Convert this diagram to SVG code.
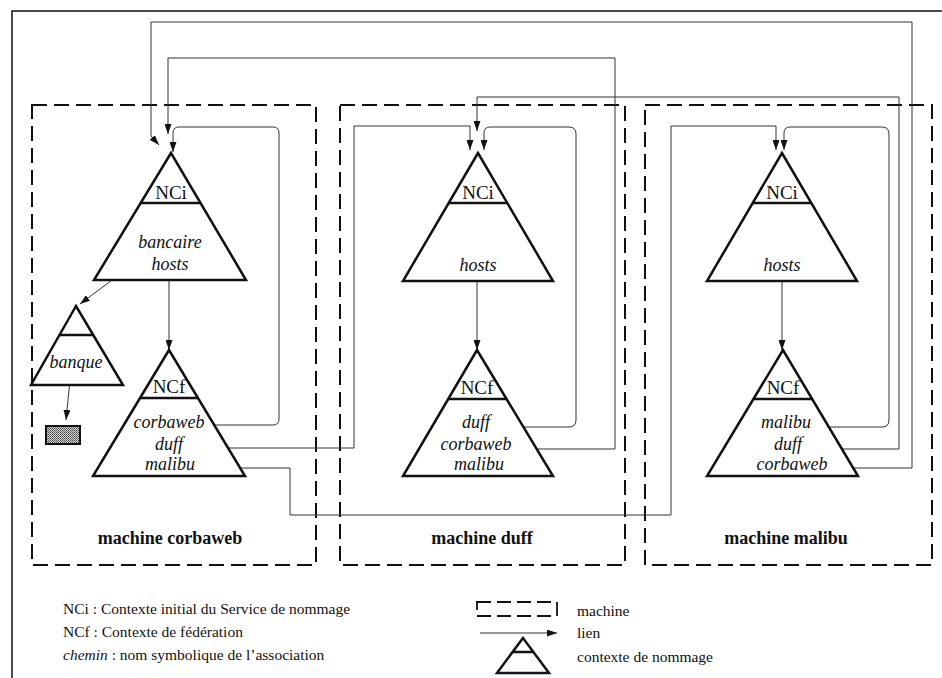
<svg xmlns="http://www.w3.org/2000/svg" width="942" height="678" viewBox="0 0 942 678">
  <style>
    .frame { fill: none; stroke: #111; stroke-width: 1.5; }
    .machine { fill: none; stroke: #111; stroke-width: 2; stroke-dasharray: 15 7; }
    .tri { fill: #fff; stroke: #111; stroke-width: 2.5; stroke-linejoin: miter; }
    .sep { stroke: #111; stroke-width: 2.5; }
    .link { fill: none; stroke: #333; stroke-width: 1; }
    text { font-family: "Liberation Serif", "Times New Roman", serif; fill: #111; }
    .t { text-anchor: middle; }
    .ctx { font-size: 19px; }
    .name { font-size: 18px; font-style: italic; }
    .mlabel { font-size: 18px; font-weight: bold; }
    .key { font-size: 15.5px; text-anchor: start; }
  </style>
  <defs>
    <marker id="arrow" markerUnits="userSpaceOnUse" markerWidth="10" markerHeight="7" refX="10" refY="3.5" orient="auto">
      <path d="M0,0 L10,3.5 L0,7 z" fill="#111"/>
    </marker>
    <pattern id="grain" width="2" height="2" patternUnits="userSpaceOnUse">
      <rect width="2" height="2" fill="#d8d8d8"/>
      <rect width="1" height="1" fill="#444"/>
      <rect x="1" y="1" width="1" height="1" fill="#666"/>
    </pattern>
  </defs>

  <rect width="942" height="678" fill="#fff"/>

  <!-- page frame -->
  <path class="frame" d="M12,678 V11 H942"/>

  <!-- machine boundaries -->
  <g id="machine-corbaweb">
    <rect class="machine" x="32" y="105" width="284" height="460"/>
    <text class="t mlabel" x="170" y="544">machine corbaweb</text>
  </g>
  <g id="machine-duff">
    <rect class="machine" x="340" y="105" width="285" height="460"/>
    <text class="t mlabel" x="482" y="544">machine duff</text>
  </g>
  <g id="machine-malibu">
    <rect class="machine" x="645" y="105" width="287" height="460"/>
    <text class="t mlabel" x="786" y="544">machine malibu</text>
  </g>

  <!-- links -->
  <g id="connectors">
    <!-- corbaweb machine -->
    <path class="link" d="M147,254 L80,304" marker-end="url(#arrow)"/>
    <path class="link" d="M70,380 L66,420" marker-end="url(#arrow)"/>
    <path class="link" d="M169,277 V350" marker-end="url(#arrow)"/>
    <path class="link" d="M210,425 H273 Q279,425 279,419 V133 Q279,127 273,127 H179 Q173,127 173,133 V152" marker-end="url(#arrow)"/>
    <path class="link" d="M190,448 H354 V126 H470 V150" marker-end="url(#arrow)"/>
    <path class="link" d="M197,468 H290 V515 H671 V126 H776 V150" marker-end="url(#arrow)"/>
    <!-- duff machine -->
    <path class="link" d="M477,277 V350" marker-end="url(#arrow)"/>
    <path class="link" d="M503,427 H569 Q576,427 576,420 V134 Q576,127 569,127 H490 Q484,127 484,133 V150" marker-end="url(#arrow)"/>
    <path class="link" d="M517,449 H615 V58 H168 V134" marker-end="url(#arrow)"/>
    <!-- malibu machine -->
    <path class="link" d="M782,278 V350" marker-end="url(#arrow)"/>
    <path class="link" d="M818,427 H882 Q889,427 889,420 V134 Q889,127 882,127 H790 Q784,127 784,133 V150" marker-end="url(#arrow)"/>
    <path class="link" d="M810,449 H899 V97 H477 V131" marker-end="url(#arrow)"/>
    <path class="link" d="M830,468 H912 V22 H151 V136 L159,145" marker-end="url(#arrow)"/>
  </g>

  <!-- naming contexts, machine corbaweb -->
  <g id="nci-corbaweb">
    <polygon class="tri" points="171,153 94,280 246,280"/>
    <line class="sep" x1="141" y1="203" x2="201" y2="203"/>
    <text class="t ctx" x="171" y="199">NCi</text>
    <text class="t name" x="170" y="248">bancaire</text>
    <text class="t name" x="170" y="270">hosts</text>
  </g>
  <g id="banque">
    <polygon class="tri" points="76,306 31,385 123,385"/>
    <line class="sep" x1="59" y1="335" x2="93" y2="335"/>
    <text class="t name" x="76" y="368">banque</text>
  </g>
  <g id="objet-banque">
    <rect x="46" y="426" width="34" height="18" fill="url(#grain)" stroke="#111" stroke-width="2"/>
  </g>
  <g id="ncf-corbaweb">
    <polygon class="tri" points="169,350 93,476 245,476"/>
    <line class="sep" x1="140" y1="398" x2="198" y2="398"/>
    <text class="t ctx" x="169" y="393">NCf</text>
    <text class="t name" x="169" y="428">corbaweb</text>
    <text class="t name" x="169" y="450">duff</text>
    <text class="t name" x="170" y="470">malibu</text>
  </g>

  <!-- naming contexts, machine duff -->
  <g id="nci-duff">
    <polygon class="tri" points="478,153 403,281 553,281"/>
    <line class="sep" x1="448" y1="203" x2="508" y2="203"/>
    <text class="t ctx" x="478" y="199">NCi</text>
    <text class="t name" x="478" y="271">hosts</text>
  </g>
  <g id="ncf-duff">
    <polygon class="tri" points="477,350 403,476 553,476"/>
    <line class="sep" x1="448" y1="399" x2="506" y2="399"/>
    <text class="t ctx" x="477" y="394">NCf</text>
    <text class="t name" x="476" y="428">duff</text>
    <text class="t name" x="476" y="450">corbaweb</text>
    <text class="t name" x="479" y="470">malibu</text>
  </g>

  <!-- naming contexts, machine malibu -->
  <g id="nci-malibu">
    <polygon class="tri" points="782,153 707,281 857,281"/>
    <line class="sep" x1="752" y1="203" x2="812" y2="203"/>
    <text class="t ctx" x="782" y="199">NCi</text>
    <text class="t name" x="782" y="271">hosts</text>
  </g>
  <g id="ncf-malibu">
    <polygon class="tri" points="783,350 707,476 858,476"/>
    <line class="sep" x1="754" y1="399" x2="812" y2="399"/>
    <text class="t ctx" x="783" y="394">NCf</text>
    <text class="t name" x="786" y="428">malibu</text>
    <text class="t name" x="788" y="450">duff</text>
    <text class="t name" x="792" y="470">corbaweb</text>
  </g>

  <!-- key -->
  <g id="legend-left">
    <text class="key" x="63" y="614">NCi : Contexte initial du Service de nommage</text>
    <text class="key" x="63" y="637">NCf : Contexte de fédération</text>
    <text class="key" x="63" y="660"><tspan font-style="italic">chemin</tspan>  : nom symbolique de l’association</text>
  </g>
  <g id="legend-right">
    <rect x="477" y="602" width="80" height="14" fill="none" stroke="#111" stroke-width="1.8" stroke-dasharray="14 6"/>
    <text class="key" x="577" y="616">machine</text>
    <line class="link" x1="480" y1="633" x2="557" y2="633" marker-end="url(#arrow)"/>
    <text class="key" x="577" y="638">lien</text>
    <polygon class="tri" points="523,638 497,673 549,673" stroke-width="2"/>
    <line class="sep" x1="512" y1="652" x2="534" y2="652" stroke-width="2"/>
    <text class="key" x="577" y="662">contexte de nommage</text>
  </g>
</svg>
